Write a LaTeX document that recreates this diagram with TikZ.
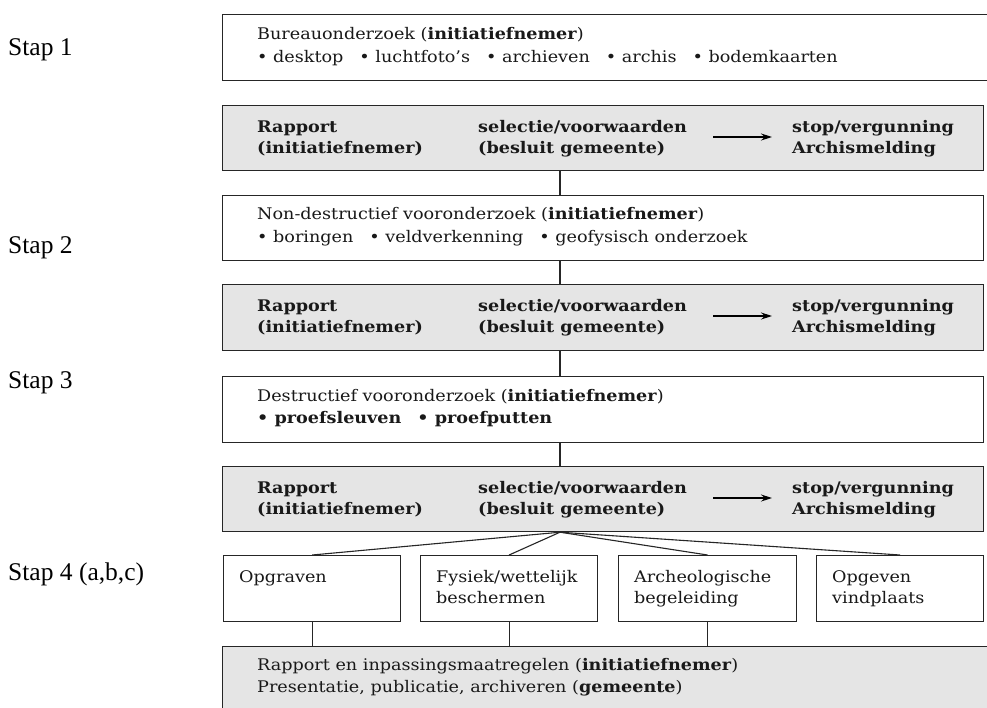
\documentclass[tikz,border=0pt]{standalone}
\usepackage{fontspec}
\setmainfont{DejaVu Serif}[FakeStretch=1.1]
\newfontfamily\stapfont{Liberation Serif}
\usetikzlibrary{arrows.meta}
\begin{document}
\begin{tikzpicture}[x=1pt,y=-1pt,
  box/.style={draw=black!85, line width=1.2pt, fill=white, inner sep=0pt, anchor=north west},
  graybox/.style={box, fill=black!10},
  txt/.style={anchor=base west, inner sep=0pt, text=black!90, font=\fontsize{16}{19}\selectfont},
  stap/.style={anchor=base west, inner sep=0pt, font=\stapfont\fontsize{25.5}{28}\selectfont},
  conn/.style={draw=black!85, line width=1.1pt},
  arr/.style={draw=black, line width=1.2pt, -{Stealth[length=11pt,width=7pt]}}]
\clip (0,0) rectangle (987,707);
\fill[white] (0,0) rectangle (987,707);
\coordinate (cx) at (560,0);
% main boxes
\node[box, minimum width=768, minimum height=66] (b1) at (222,14) {};
\node[graybox, minimum width=761, minimum height=65] (b2) at (222,105) {};
\node[box, minimum width=761, minimum height=65] (b3) at (222,195) {};
\node[graybox, minimum width=761, minimum height=66] (b4) at (222,284) {};
\node[box, minimum width=761, minimum height=66] (b5) at (222,376) {};
\node[graybox, minimum width=761, minimum height=65] (b6) at (222,466) {};
% stap 4 boxes
\node[box, minimum width=177, minimum height=66] (sa) at (223,555) {};
\node[box, minimum width=177, minimum height=66] (sb) at (420,555) {};
\node[box, minimum width=178, minimum height=66] (sc) at (618,555) {};
\node[box, minimum width=167, minimum height=66] (sd) at (816,555) {};
\node[graybox, minimum width=768, minimum height=80] (b7) at (222,646) {};
% connectors
\draw[conn] (cx |- b2.south) -- (cx |- b3.north);
\draw[conn] (cx |- b3.south) -- (cx |- b4.north);
\draw[conn] (cx |- b4.south) -- (cx |- b5.north);
\draw[conn] (cx |- b5.south) -- (cx |- b6.north);
\coordinate (fan) at (cx |- b6.south);
\draw[conn] (fan) -- (sa.north);
\draw[conn] (fan) -- (sb.north);
\draw[conn] (fan) -- (sc.north);
\draw[conn] (fan) -- (sd.north);
\draw[conn] (sa.south) -- (sa.south |- b7.north);
\draw[conn] (sb.south) -- (sb.south |- b7.north);
\draw[conn] (sc.south) -- (sc.south |- b7.north);
% stap labels
\node[stap] (s1) at (8,55) {Stap 1};
\node[stap] (s2) at (8,253) {Stap 2};
\node[stap] (s3) at (8,388) {Stap 3};
\node[stap] (s4) at (8,580) {Stap 4 (a,b,c)};
% box 1 text
\node[txt] (t1a) at (257,39) {Bureauonderzoek (\textbf{initiatiefnemer})};
\node[txt] (t1b) at (257,62) {• desktop\quad • luchtfoto’s\quad • archieven\quad • archis\quad • bodemkaarten};
% gray rows
\foreach \b/\y in {b2/132, b4/311, b6/493}{
  \node[txt] (\b r1) at (257,\y) {\textbf{Rapport}};
  \node[txt] (\b r2) at (257,\y+21) {\textbf{(initiatiefnemer)}};
  \node[txt] (\b s1) at (478,\y) {\textbf{selectie/voorwaarden}};
  \node[txt] (\b s2) at (478,\y+21) {\textbf{(besluit gemeente)}};
  \node[txt] (\b v1) at (792,\y) {\textbf{stop/vergunning}};
  \node[txt] (\b v2) at (792,\y+21) {\textbf{Archismelding}};
  \coordinate (\b a1) at (713,\y+5);
  \coordinate (\b a2) at (772,\y+5);
  \draw[arr] (\b a1) -- (\b a2);
}
% box 3 text
\node[txt] (t3a) at (257,219) {Non-destructief vooronderzoek (\textbf{initiatiefnemer})};
\node[txt] (t3b) at (257,242) {• boringen\quad • veldverkenning\quad • geofysisch onderzoek};
% box 5 text
\node[txt] (t5a) at (257,401) {Destructief vooronderzoek (\textbf{initiatiefnemer})};
\node[txt] (t5b) at (257,423) {\textbf{• proefsleuven\quad • proefputten}};
% stap 4 box text
\node[txt] (ta) at (239,582) {Opgraven};
\node[txt] (tb1) at (436,582) {Fysiek/wettelijk};
\node[txt] (tb2) at (436,603) {beschermen};
\node[txt] (tc1) at (634,582) {Archeologische};
\node[txt] (tc2) at (634,603) {begeleiding};
\node[txt] (td1) at (832,582) {Opgeven};
\node[txt] (td2) at (832,603) {vindplaats};
% bottom box text
\node[txt] (t7a) at (257,670) {Rapport en inpassingsmaatregelen (\textbf{initiatiefnemer})};
\node[txt] (t7b) at (257,692) {Presentatie, publicatie, archiveren (\textbf{gemeente})};
\end{tikzpicture}
\end{document}
